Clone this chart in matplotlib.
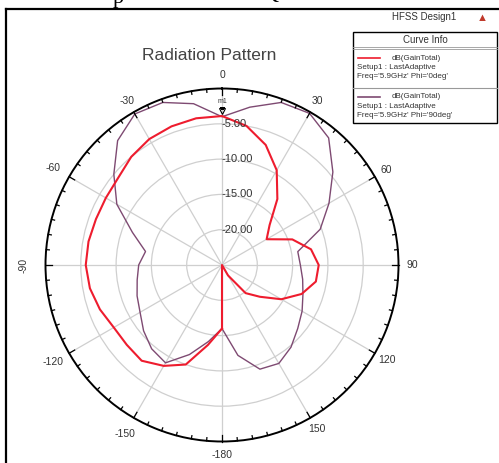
import numpy as np
import matplotlib
matplotlib.use("Agg")
import matplotlib.pyplot as plt
from matplotlib.lines import Line2D

plt.rcParams['font.family'] = ['Liberation Sans', 'DejaVu Sans']

# gain samples, dB, every 10 deg from -180 to 180
angles = np.arange(-180, 181, 10)
gain_phi0 = [-16.0, -13.5, -10.0, -8.5, -7.3, -7.4, -7.3, -6.6, -6.0, -5.7,
             -5.8, -6.0, -6.0, -5.8, -5.0, -4.4, -4.1, -3.9, -3.9, -5.0,
             -6.9, -9.5, -12.8, -16.2, -17.7, -14.4, -12.2, -11.3, -11.5, -13.0,
             -15.3, -18.0, -19.8, -23.3, -25.0, -25.0, -16.0]
gain_phi90 = [-16.0, -14.0, -11.5, -9.0, -9.5, -10.5, -11.6, -12.2, -12.8, -13.2,
              -14.0, -11.5, -7.8, -5.0, -2.0, -0.3, -0.5, -1.8, -4.0, -2.3,
              -0.5, -0.2, -1.5, -4.5, -7.5, -10.2, -14.1, -13.9, -13.4, -12.8,
              -11.9, -11.0, -9.8, -8.9, -9.3, -12.0, -16.0]

ring_values = [-20, -15, -10, -5]
ring_labels = ['-20.00', '-15.00', '-10.00', '-5.00']
theta_ticks = np.arange(0, 360, 30)
theta_labels = ['0', '30', '60', '90', '120', '150', '-180', '-150', '-120', '-90', '-60', '-30']

curve_names = ['dB(GainTotal)', 'dB(GainTotal)']
curve_setup = ['Setup1 : LastAdaptive', 'Setup1 : LastAdaptive']
curve_freq = ["Freq='5.9GHz' Phi='0deg'", "Freq='5.9GHz' Phi='90deg'"]

red = '#ee1c2e'
purple = '#7e4a72'
grid_col = '#cfcfcf'
rmin, rmax = -25, 0


def fx(px):
    return px / 499


def fy(py):
    return 1 - py / 463


fig = plt.figure(figsize=(4.99, 4.63), dpi=100)

# bits of the caption line above the frame
fig.text(fx(113), fy(3), 'p', ha='left', va='baseline', fontsize=16,
         family='Liberation Serif', color='k')
fig.text(fx(262), fy(-1), 'Q', ha='left', va='baseline', fontsize=16,
         family='Liberation Serif', color='k')

# outer frame (only top and left edges fall inside the image)
fig.add_artist(Line2D([fx(6), 1.0], [fy(9), fy(9)], color='k', lw=1.6))
fig.add_artist(Line2D([fx(6), fx(6)], [fy(9), 0.0], color='k', lw=1.6))

ax = fig.add_axes([fx(45.5), 21.5 / 463, 353 / 499, 353 / 463], projection='polar')
ax.set_theta_zero_location('N')
ax.set_theta_direction(-1)
ax.set_ylim(rmin, rmax)
ax.set_yticks(ring_values)
ax.set_yticklabels([])
ax.set_xticks(np.deg2rad(theta_ticks))
ax.set_xticklabels([])
ax.grid(True, color=grid_col, lw=0.9)
ax.spines['polar'].set_color('k')
ax.spines['polar'].set_linewidth(1.4)
ax.tick_params(length=0)

th = np.deg2rad(angles)
ax.plot(th, gain_phi90, color=purple, lw=1.0, zorder=3)
ax.plot(th, gain_phi0, color=red, lw=1.5, zorder=4)

# inward ticks on the outer ring
for a in range(0, 360, 5):
    ln = 0.9 if a % 30 == 0 else 0.45
    ax.plot([np.deg2rad(a)] * 2, [rmax - ln, rmax], color='k', lw=0.9, clip_on=False, zorder=5)

# angle labels
for a, lab in zip(theta_ticks, theta_labels):
    rot = 90 if lab == '-90' else 0
    rr = 1.9
    if lab in ('-60', '-120', '-150'):
        rr = 2.6
    elif lab == '-90':
        rr = 3.1
    ax.text(np.deg2rad(a), rr, lab, ha='center', va='center', fontsize=7.5,
            color='#333333', rotation=rot, clip_on=False)

# ring labels along the 0 deg spoke
for v, lab in zip(ring_values, ring_labels):
    ax.text(np.deg2rad(-0.4), v, lab, ha='left', va='center', fontsize=8,
            color='#333333', zorder=6)

# marker m1 on the phi=0 curve at theta=0
r0 = gain_phi0[list(angles).index(0)]
ax.plot([0], [r0 + 0.7], marker='v', ms=5, mfc='none', mec='k', mew=0.8, zorder=6)
ax.text(0, r0 + 2.0, 'm1', ha='center', va='center', fontsize=5, color='#333333', zorder=6)

fig.text(fx(209), fy(55), 'Radiation Pattern', ha='center', va='center',
         fontsize=12.5, color='#444444')

# legend block
fig.text(fx(424), fy(17), 'HFSS Design1', ha='center', va='center',
         fontsize=7, color='#333333')
fig.text(fx(482), fy(18), '\u25b2', ha='center', va='center', fontsize=8, color='#c0392b')

box_l, box_r, box_t, box_b = 353, 497, 32, 123
fig.add_artist(plt.Rectangle((fx(box_l), fy(box_b)), fx(box_r) - fx(box_l), fy(box_t) - fy(box_b),
                             fill=False, edgecolor='k', lw=1.0))
fig.text(fx((box_l + box_r) / 2), fy(40), 'Curve Info', ha='center', va='center',
         fontsize=7, color='#333333')
fig.add_artist(Line2D([fx(box_l), fx(box_r)], [fy(47), fy(47)], color='#999999', lw=0.6))
fig.add_artist(Line2D([fx(box_l), fx(box_r)], [fy(49), fy(49)], color='#999999', lw=0.6))
fig.add_artist(Line2D([fx(box_l), fx(box_r)], [fy(88), fy(88)], color='#999999', lw=0.8))

for i, (col, name, setup, freq) in enumerate(zip([red, purple], curve_names, curve_setup, curve_freq)):
    y0 = 58 + i * 39
    fig.add_artist(Line2D([fx(358), fx(380)], [fy(y0), fy(y0)], color=col, lw=1.2))
    fig.text(fx(392), fy(y0), name, ha='left', va='center', fontsize=5.8, color='#333333')
    fig.text(fx(357), fy(y0 + 9.5), setup, ha='left', va='center', fontsize=5.8, color='#333333')
    fig.text(fx(357), fy(y0 + 18.5), freq, ha='left', va='center', fontsize=5.8, color='#333333')

fig.savefig('out.png', dpi=100)
